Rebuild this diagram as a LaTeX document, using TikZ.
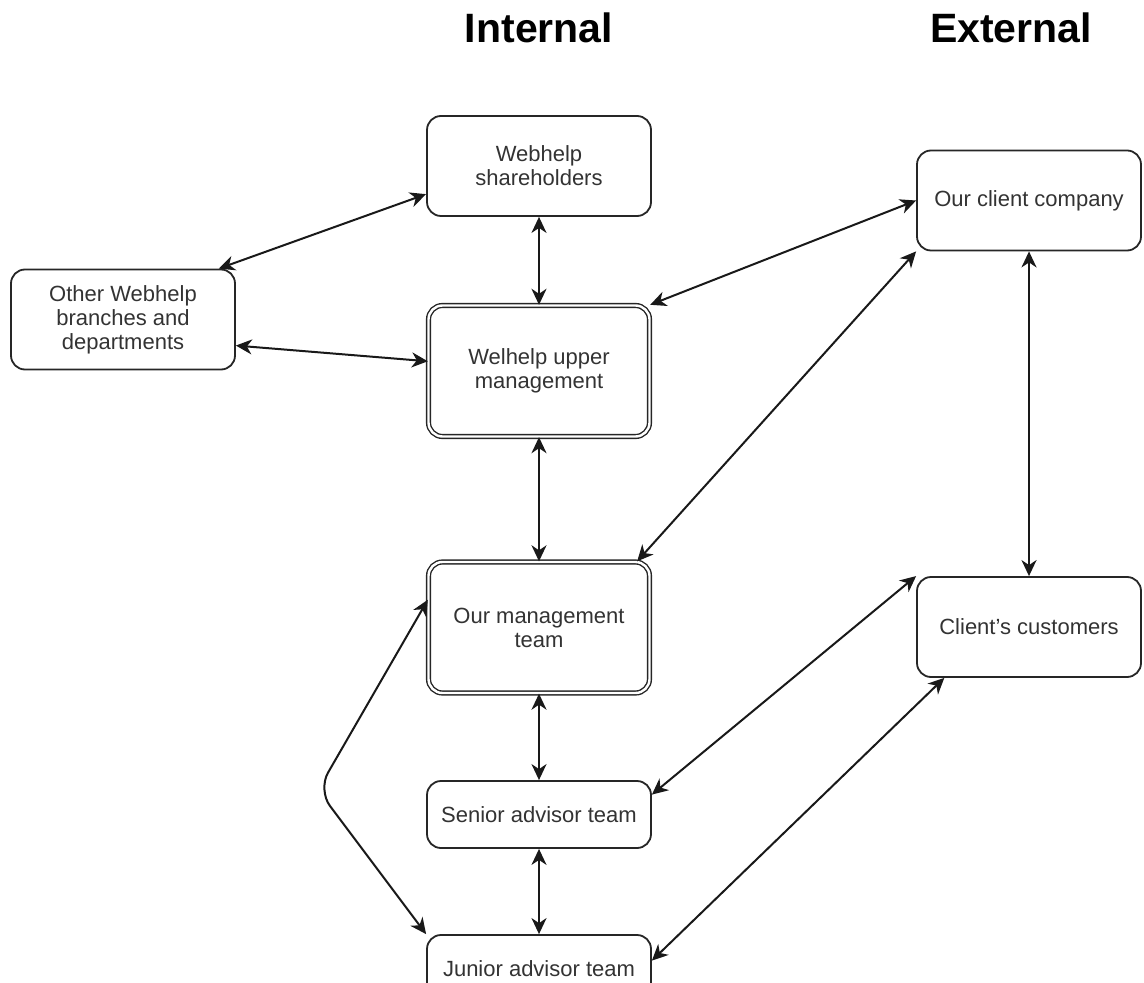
\documentclass[tikz,border=0pt]{standalone}
\usepackage{fontspec}
\setmainfont{Liberation Sans}
\usetikzlibrary{arrows.meta}

\begin{document}
\begin{tikzpicture}[x=0.5pt, y=-0.5pt,
                    box style/.style={
                        rectangle,
                        rounded corners=7pt,
                        draw=black!85,
                        line width=0.9pt,
                        fill=white,
                        align=center,
                        text=black!80,
                        font=\fontsize{11}{12}\selectfont,
                        inner sep=0pt,
                        minimum width=112pt,
                        minimum height=50pt
                    },
                    double box style/.style={
                        box style,
                        double=white,
                        double distance=1.2pt,
                        line width=0.7pt,
                        minimum width=110.5pt,
                        minimum height=65.5pt
                    },
                    small box style/.style={box style, minimum height=33.5pt},
                    title style/.style={font=\bfseries\fontsize{20.5}{24}\selectfont, anchor=base},
                    link style/.style={
                        {Stealth[length=8pt,width=7.5pt,inset=2.5pt]}-{Stealth[length=8pt,width=7.5pt,inset=2.5pt]},
                        line width=1pt,
                        black!90
                    }
                ]
    \useasboundingbox (0,0) rectangle (1144,983);

    \node[title style] (internal) at (539,43) {Internal};
    \node[title style] (external) at (1011,43) {External};

    \node[box style] (share) at (539,166) {Webhelp\\shareholders};
    \node[box style] (branch) at (123,319.5) {Other Webhelp\\branches and\\departments};
    \node[double box style] (upper) at (539,371) {Welhelp upper\\management};
    \node[double box style] (mgmt) at (539,627.5) {Our management\\team};
    \node[small box style] (senior) at (539,814.5) {Senior advisor team};
    \node[small box style] (junior) at (539,968.5) {Junior advisor team};
    \node[box style] (client) at (1029,200.5) {Our client company};
    \node[box style] (cust) at (1029,627) {Client's customers};

    \draw[link style] (share.194) -- (branch.28);
    \draw[link style] (share.south) -- (upper.north);
    \draw[link style] (branch.-13) -- (upper.175);
    \draw[link style] (upper.north east) -- (client.west);
    \draw[link style] (client.south west) -- (mgmt.34);
    \draw[link style] (upper.south) -- (mgmt.north);
    \draw[link style] (client.south) -- (cust.north);
    \draw[link style] (mgmt.south) -- (senior.north);
    \draw[link style] (cust.north west) -- (senior.10);
    \draw[link style] (senior.south) -- (junior.north);
    \draw[link style] (cust.211) -- (junior.4);
    \draw[link style, rounded corners=10pt] (mgmt.166) -- (318,790) -- (junior.north west);
\end{tikzpicture}
\end{document}
